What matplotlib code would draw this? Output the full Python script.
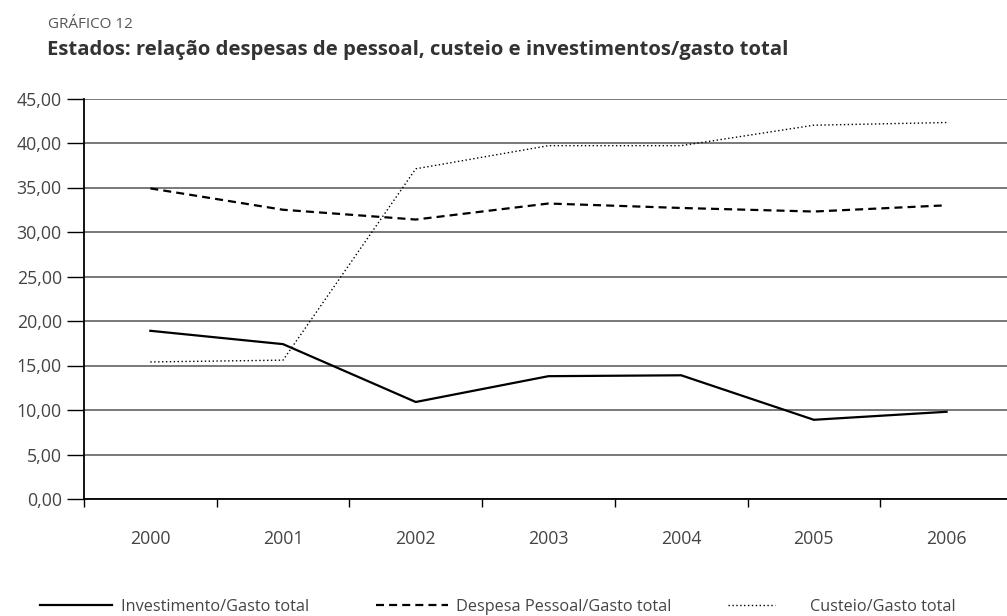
import matplotlib
matplotlib.use("Agg")
import matplotlib.pyplot as plt
from matplotlib.lines import Line2D
from matplotlib.ticker import FixedLocator, NullFormatter

plt.rcParams['font.family'] = ['Open Sans', 'DejaVu Sans']

years = ['2000', '2001', '2002', '2003', '2004', '2005', '2006']
investimento = [18.9, 17.4, 10.9, 13.8, 13.9, 8.9, 9.8]
despesa_pessoal = [34.9, 32.5, 31.4, 33.2, 32.7, 32.3, 33.0]
custeio = [15.4, 15.6, 37.1, 39.7, 39.7, 42.0, 42.3]
yticks = [0, 5, 10, 15, 20, 25, 30, 35, 40, 45]
series_labels = ['Investimento/Gasto total', 'Despesa Pessoal/Gasto total', 'Custeio/Gasto total']

W, H = 1007, 616
fig = plt.figure(figsize=(W / 100, H / 100), dpi=100)
ax = fig.add_axes([84 / W, (H - 499) / H, (1007 - 84) / W, (499 - 98.5) / H])

DASH = (0, (3.6, 2.3))
DOT = (0, (1, 1.8))

x = list(range(len(years)))
ax.plot(x, investimento, color='black', lw=1.6)
ax.plot(x, despesa_pessoal, color='black', lw=1.6, linestyle=DASH)
ax.plot(x, custeio, color='black', lw=1.0, linestyle=DOT)

ax.set_ylim(0, 45)
ax.set_xlim(-0.5, -0.5 + (1007 - 84) / 132.7)
ax.set_yticks(yticks)
ax.set_yticklabels([f"{v:.2f}".replace('.', ',') for v in yticks])
ax.yaxis.grid(True, color='#555555', lw=1.1)
ax.set_axisbelow(True)

ax.xaxis.set_major_locator(FixedLocator([i - 0.5 for i in range(len(years) + 1)]))
ax.xaxis.set_major_formatter(NullFormatter())
ax.xaxis.set_minor_locator(FixedLocator(x))
ax.set_xticklabels(years, minor=True)
ax.tick_params(axis='x', which='major', length=6, width=1.0, direction='out', color='black')
ax.tick_params(axis='x', which='minor', length=0, pad=22, labelsize=12.8, labelcolor='#444444')
ax.tick_params(axis='y', length=12, width=1.0, color='black', pad=4, labelsize=12.8, labelcolor='#444444')

for s in ['top', 'right']:
    ax.spines[s].set_visible(False)
ax.spines['left'].set_linewidth(1.3)
ax.spines['bottom'].set_linewidth(1.3)

fig.text(48 / W, 1 - 28 / H, 'GRÁFICO 12', fontsize=11, color='#555555', va='baseline', ha='left')
fig.text(47 / W, 1 - 55 / H, 'Estados: relação despesas de pessoal, custeio e investimentos/gasto total',
         fontsize=14.6, fontweight='bold', color='#333333', va='baseline', ha='left')

ly = 1 - 605 / H
legend_items = [
    (40, 112, 121, dict(color='black', lw=1.6)),
    (376, 448, 456, dict(color='black', lw=1.6, linestyle=DASH)),
    (728, 775, 810, dict(color='black', lw=1.0, linestyle=DOT)),
]
for (x0, x1, tx, kw), lab in zip(legend_items, series_labels):
    fig.add_artist(Line2D([x0 / W, x1 / W], [ly, ly], transform=fig.transFigure, **kw))
    fig.text(tx / W, 1 - 607 / H, lab, fontsize=11.7, color='#444444', va='center', ha='left')

fig.savefig('out.png', dpi=100)
